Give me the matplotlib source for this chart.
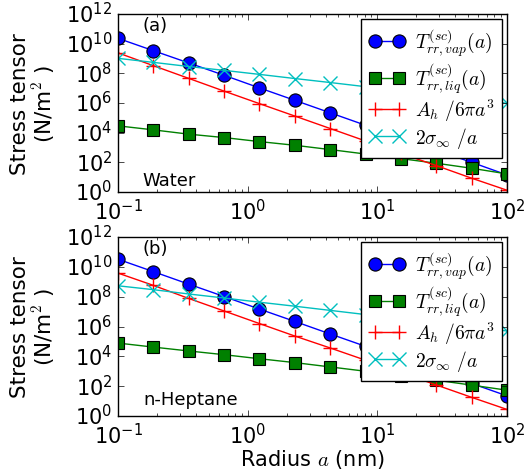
import matplotlib
matplotlib.use("Agg")
import matplotlib.pyplot as plt
import numpy as np

plt.style.use('classic')
plt.rcParams['mathtext.fontset'] = 'cm'
plt.rcParams['figure.facecolor'] = 'white'
plt.rcParams['savefig.facecolor'] = 'white'

radius = [0.1, 0.187, 0.351, 0.658, 1.23, 2.31, 4.33, 8.11, 15.2, 28.5, 53.4, 100.0]

# log10 of stress values
water_vap = [10.36, 9.53, 8.70, 7.87, 7.02, 6.18, 5.34, 4.50, 3.66, 2.82, 2.00, 1.15]
water_liq = [4.46, 4.19, 3.90, 3.67, 3.40, 3.15, 2.86, 2.56, 2.25, 1.94, 1.60, 1.22]
water_ah = [9.38, 8.52, 7.66, 6.80, 5.96, 5.12, 4.28, 3.44, 2.60, 1.78, 0.93, 0.12]
water_sig = [9.01, 8.74, 8.46, 8.20, 7.93, 7.65, 7.38, 7.10, 6.83, 6.55, 6.27, 5.98]

hept_vap = [10.51, 9.68, 8.84, 8.01, 7.17, 6.34, 5.50, 4.67, 3.83, 3.00, 2.18, 1.35]
hept_liq = [4.89, 4.62, 4.36, 4.11, 3.84, 3.58, 3.29, 3.00, 2.69, 2.40, 2.07, 1.73]
hept_ah = [9.58, 8.76, 7.88, 7.04, 6.20, 5.36, 4.56, 3.74, 2.92, 2.08, 1.25, 0.44]
hept_sig = [8.73, 8.47, 8.18, 7.91, 7.63, 7.36, 7.08, 6.80, 6.53, 6.25, 5.98, 5.70]

labels = [r'$T^{(sc)}_{rr,vap}(a)$', r'$T^{(sc)}_{rr,liq}(a)$',
          r'$A_h\ /6\pi a^3$', r'$2\sigma_\infty\ /a$']

fig = plt.figure(figsize=(5.24, 4.77), dpi=100)
ax1 = fig.add_axes([118/524, 1-193/477, 389/524, 178/477])
ax2 = fig.add_axes([118/524, 1-417/477, 389/524, 179/477])

def draw(ax, vap, liq, ah, sig, tag, name, ny):
    r = np.array(radius)
    ax.loglog(r, 10**np.array(vap), 'b-o', ms=9.5, mec='k', mew=0.8, label=labels[0])
    ax.loglog(r, 10**np.array(liq), 'g-s', ms=8.5, mec='k', mew=0.8, label=labels[1])
    ax.loglog(r, 10**np.array(ah), 'r-+', ms=10, mew=1.0, label=labels[2])
    ax.loglog(r, 10**np.array(sig), 'c-x', ms=10, mew=1.0, label=labels[3])
    ax.set_xlim(0.1, 100)
    ax.set_ylim(1, 1e12)
    ax.set_yticks([10.0**k for k in range(0, 13, 2)])
    ax.tick_params(labelsize=15)
    ax.text(0.064, 0.94, tag, transform=ax.transAxes, fontsize=13, va='center', ha='left')
    ax.text(0.064, ny, name, transform=ax.transAxes, fontsize=13, va='center', ha='left')
    ax.set_ylabel('Stress tensor\n(N/m$^2$ )', fontsize=15.5, linespacing=1.0)
    leg = ax.legend(loc='upper right', fontsize=14, numpoints=2, borderaxespad=0.25,
                    handlelength=1.84, labelspacing=0.1, borderpad=0.4, handletextpad=0.5)
    leg.get_frame().set_linewidth(1.0)

draw(ax1, water_vap, water_liq, water_ah, water_sig, '(a)', 'Water', 0.065)
draw(ax2, hept_vap, hept_liq, hept_ah, hept_sig, '(b)', 'n-Heptane', 0.095)
ax2.set_xlabel(r'Radius $a$ (nm)', fontsize=15, labelpad=0)
for ax in (ax1, ax2):
    ax.yaxis.set_label_coords(-0.157, 0.5)

fig.savefig('out.png', dpi=100)
